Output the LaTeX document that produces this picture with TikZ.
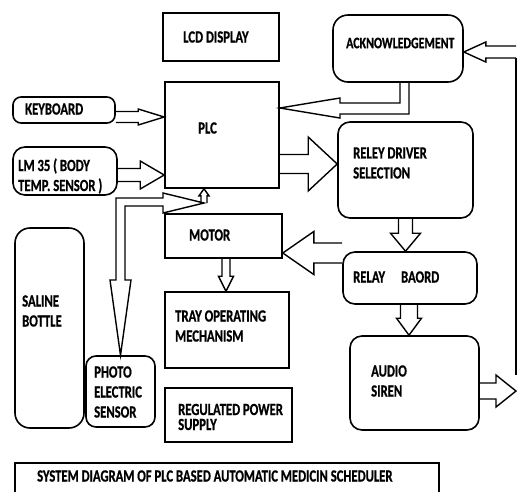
\documentclass[tikz,border=0pt]{standalone}
\usepackage{fontspec}
\newfontfamily\lblfont{Carlito}[FakeStretch=0.745, FakeBold=0.8]
\usetikzlibrary{calc}
\tikzset{
  box/.style={draw, line width=1.6pt, inner sep=0pt},
  rbox/.style={box, rounded corners=#1}, rbox/.default=12pt,
  txt/.style={anchor=west, inner sep=0pt, align=left, font=\lblfont\bfseries\fontsize{17}{20}\selectfont},
  hollow/.style={draw, line width=1.4pt, line join=miter},
}
% hollow block arrow: tail, tip, half shaft, half head, head length
\newcommand\hollowarrow[5]{%
  \path ($(#2)!#5!(#1)$) coordinate (hb);
  \draw[hollow] ($(#1)!#3!90:(#2)$) -- ($(hb)!#3!90:(#2)$) -- ($(hb)!#4!90:(#2)$)
    -- (#2) -- ($(hb)!#4!-90:(#2)$) -- ($(hb)!#3!-90:(#2)$) -- ($(#1)!#3!-90:(#2)$);
}
\begin{document}
\begin{tikzpicture}[x=1pt, y=-1pt]
\useasboundingbox (0,0) rectangle (517,491);
% blocks
\node[box, minimum width=116pt, minimum height=48pt] (lcd) at (221,37) {};
\node[box, minimum width=114pt, minimum height=106pt] (plc) at (222,135) {};
\node[rbox=8pt, minimum width=102pt, minimum height=26pt] (kbd) at (64,110) {};
\node[rbox, minimum width=104pt, minimum height=48pt] (lm35) at (65,171) {};
\node[box, minimum width=117pt, minimum height=44pt] (motor) at (223.5,236) {};
\node[box, minimum width=124pt, minimum height=76pt] (tray) at (227,330) {};
\node[box, minimum width=127pt, minimum height=54pt] (power) at (228.5,415) {};
\node[rbox=15pt, minimum width=69pt, minimum height=200pt] (saline) at (49.5,328) {};
\node[rbox=10pt, minimum width=69pt, minimum height=71pt] (photo) at (120.5,391.5) {};
\node[rbox=15pt, minimum width=130pt, minimum height=67pt] (ack) at (398,48.5) {};
\node[rbox, minimum width=135pt, minimum height=96pt] (relaydrv) at (405.5,170) {};
\node[rbox, minimum width=134pt, minimum height=52pt] (relayboard) at (410,278) {};
\node[rbox, minimum width=129pt, minimum height=94pt] (audio) at (414.5,383) {};
\node[box, minimum width=424pt, minimum height=34pt] (title) at (227,480) {};
% labels
\node[txt] at (183,37) {LCD DISPLAY};
\node[txt] at (198,128) {PLC};
\node[txt] at (25,109) {KEYBOARD};
\node[txt] at (18,176) {LM 35 ( BODY\\TEMP. SENSOR )};
\node[txt] at (189,235) {MOTOR};
\node[txt] at (175,326) {TRAY OPERATING\\MECHANISM};
\node[txt, font=\lblfont\bfseries\fontsize{17}{15}\selectfont] at (178,417) {REGULATED POWER\\SUPPLY};
\node[txt] at (22,311) {SALINE\\BOTTLE};
\node[txt] at (94,392) {PHOTO\\ELECTRIC\\SENSOR};
\node[txt, font=\lblfont\bfseries\fontsize{16}{20}\selectfont] at (346,43) {ACKNOWLEDGEMENT};
\node[txt] at (353,163) {RELEY DRIVER\\SELECTION};
\node[txt] at (353,277) {RELAY\hspace{16pt}BAORD};
\node[txt] at (371,381) {AUDIO\\SIREN};
\node[txt] at (37,476) {SYSTEM DIAGRAM OF PLC BASED AUTOMATIC MEDICIN SCHEDULER};
% arrows
\coordinate (k1) at (kbd.east |- 0,117);
\coordinate (k2) at (plc.west |- k1);
\hollowarrow{k1}{k2}{5.5pt}{8pt}{26pt}
\coordinate (l1) at (lm35.east |- 0,175);
\coordinate (l2) at (plc.west |- l1);
\hollowarrow{l1}{l2}{6.5pt}{14pt}{24pt}
\coordinate (p1) at (plc.east |- 0,164);
\coordinate (p2) at (relaydrv.west |- p1);
\hollowarrow{p1}{p2}{9.5pt}{27pt}{29pt}
\coordinate (d2) at (relayboard.north -| relaydrv.south);
\hollowarrow{relaydrv.south}{d2}{7pt}{15pt}{18pt}
\coordinate (b1) at (relayboard.west |- 0,253);
\coordinate (b2) at (motor.east |- b1);
\hollowarrow{b1}{b2}{10pt}{21.5pt}{31pt}
\coordinate (m1) at (motor.south -| 226,0);
\coordinate (m2) at (tray.north -| m1);
\hollowarrow{m1}{m2}{4pt}{7.5pt}{15pt}
\coordinate (r1) at (relayboard.south -| 409,0);
\coordinate (r2) at (audio.north -| r1);
\hollowarrow{r1}{r2}{8.5pt}{12.5pt}{17pt}
% feedback from siren to acknowledgement
\coordinate (sirtip) at (516,391);
\coordinate (s1) at (audio.east |- sirtip);
\hollowarrow{s1}{sirtip}{8pt}{16pt}{20pt}
\coordinate (edgetop) at (516,52);
\coordinate (ackin) at (ack.east |- edgetop);
\hollowarrow{edgetop}{ackin}{6pt}{10pt}{22pt}
\draw[hollow] ($(edgetop)+(0,6)$) -- ($(sirtip)+(0,-16)$);
% acknowledgement back to plc
\coordinate (acktip) at (plc.east |- 0,108);
\draw[hollow] ($(ack.south)+(2,0)$) |- (340,103) -- (340,98) -- (acktip)
  -- (340,118) -- (340,114) -| ($(ack.south)+(11,0)$);
% photo electric sensor link
\coordinate (hub) at (204,203);
\draw[hollow] (116,280) -- (116,198) -- (163,198) -- (163,193) -- (hub)
  -- (163,213) -- (163,206) -- (125,206) -- (125,280) -- (131,280)
  -- (photo.north) -- (110,280) -- cycle;
\coordinate (u2) at (plc.south -| hub);
\hollowarrow{hub}{u2}{3pt}{5pt}{7pt}
\end{tikzpicture}
\end{document}
